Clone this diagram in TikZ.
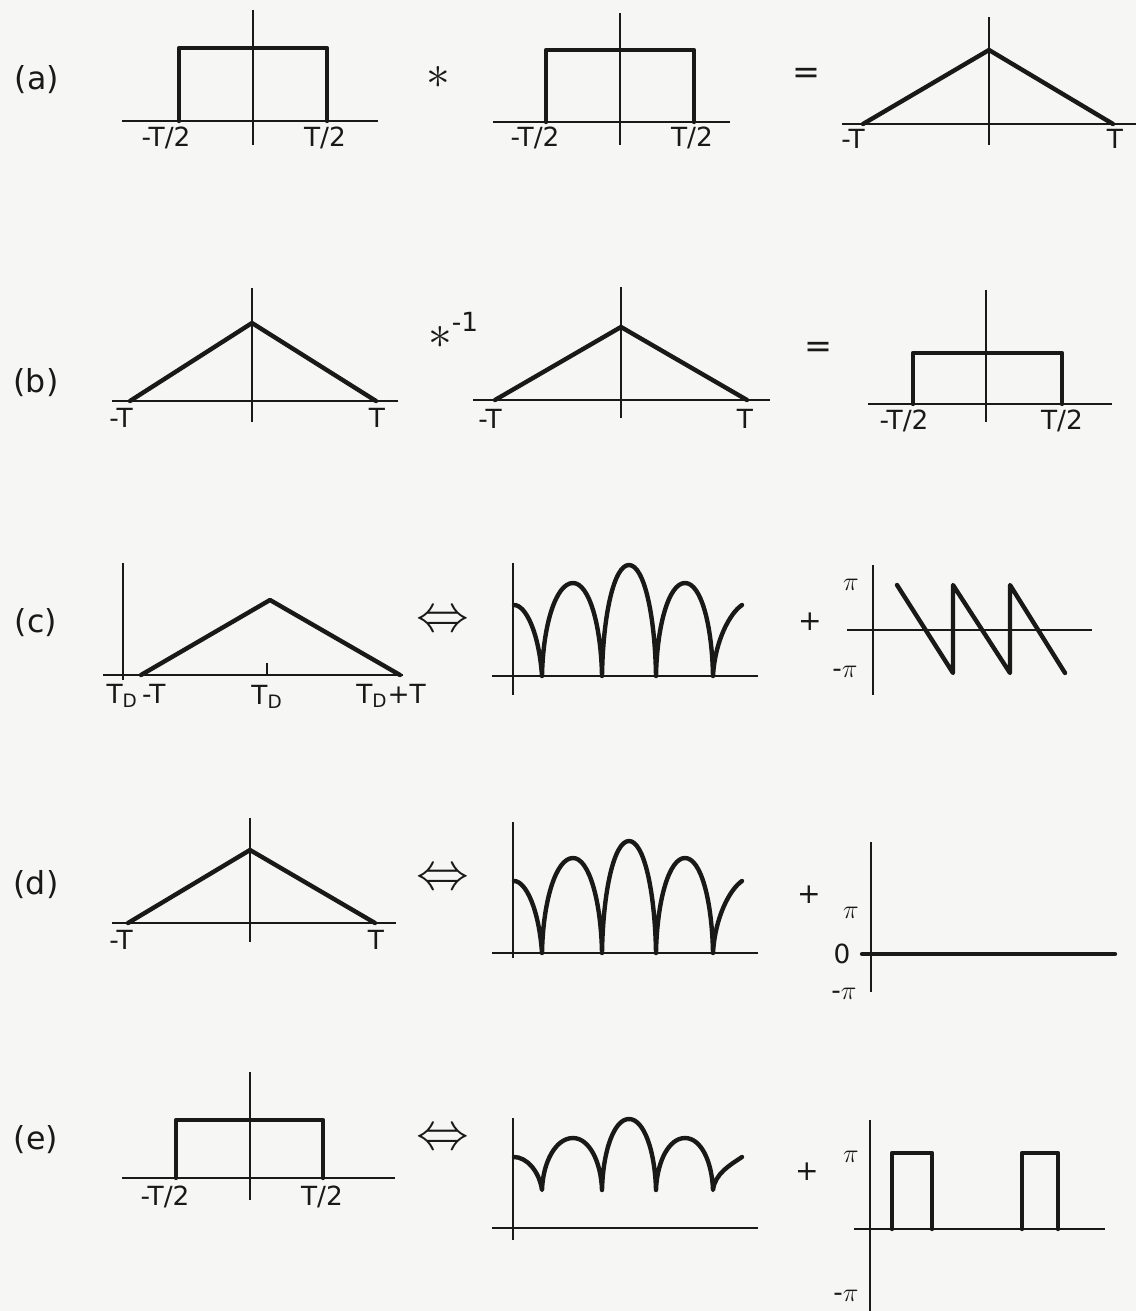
\documentclass[tikz,border=0pt]{standalone}
\usepackage{fix-cm}
\usepackage{fontspec}
\usepackage{amsmath}
\usepackage{tikz}
\setsansfont{DejaVu Sans}

\definecolor{paper}{RGB}{246,246,244}
\definecolor{ink}{RGB}{25,25,25}

% magnitude response: #1 dip y, #2 end y, #3 side peak y, #4 centre peak y
\newcommand{\magresp}[4]{%
  \draw[sig] (514,#2) .. controls +(12,0) and +(-3,{0.6*(#2-#1)}) .. (542,#1)
    .. controls +(1,{0.55*(#3-#1)}) and +(-17,0) .. (573,#3)
    .. controls +(16,0) and +(-1,{0.55*(#3-#1)}) .. (602,#1)
    .. controls +(1,{0.55*(#4-#1)}) and +(-15,0) .. (629,#4)
    .. controls +(15,0) and +(-1,{0.55*(#4-#1)}) .. (656,#1)
    .. controls +(1,{0.55*(#3-#1)}) and +(-16,0) .. (685,#3)
    .. controls +(16,0) and +(-1,{0.55*(#3-#1)}) .. (713,#1)
    .. controls +(2,{0.5*(#2-#1)}) and +(-12,8) .. (742,#2);}

\begin{document}
\begin{tikzpicture}[x=0.02cm, y=-0.02cm, ink,
    axis/.style={draw=ink, line width=1.2pt},
    sig/.style={draw=ink, line width=2.5pt, line join=round, line cap=round},
    lbl/.style={font=\sffamily\fontsize{15}{18}\selectfont, inner sep=0pt},
    tag/.style={font=\sffamily\fontsize{18}{22}\selectfont, inner sep=0pt},
    op/.style={font=\fontsize{27}{30}\selectfont, inner sep=0pt},
    eq/.style={font=\sffamily\fontsize{19}{22}\selectfont, inner sep=0pt},
    pm/.style={font=\sffamily\fontsize{16}{19}\selectfont, inner sep=0pt},
    arr/.style={font=\fontsize{30}{34}\selectfont, inner sep=0pt}]
    \fill[paper] (0,0) rectangle (1136,1311);
    \useasboundingbox (0,0) rectangle (1136,1311);

    % Row (a): rect * rect = triangle
    \node[tag] (tagA) at (37,80) {(a)};
    \draw[axis] (253,10) -- (253,145);
    \draw[axis] (122,121) -- (378,121);
    \draw[sig] (179,121) -- (179,48) -- (327,48) -- (327,121);
    \node[lbl] (lA1) at (166,138) {-T/2};
    \node[lbl] (lA2) at (325,138) {T/2};
    \node[op] (opA1) at (438,77) {$\ast$};
    \draw[axis] (620,13) -- (620,145);
    \draw[axis] (493,122) -- (730,122);
    \draw[sig] (546,122) -- (546,50) -- (694,50) -- (694,122);
    \node[lbl] (lA3) at (535,138) {-T/2};
    \node[lbl] (lA4) at (692,138) {T/2};
    \node[eq] (opA2) at (806,76) {=};
    \draw[axis] (989,17) -- (989,145);
    \draw[axis] (842,124) -- (1136,124);
    \draw[sig] (863,124) -- (989,50) -- (1113,124);
    \node[lbl] (lA5) at (853,139) {-T};
    \node[lbl] (lA6) at (1115,139) {T};

    % Row (b): triangle deconvolved by triangle
    \node[tag] (tagB) at (36,383) {(b)};
    \draw[axis] (252,288) -- (252,422);
    \draw[axis] (112,401) -- (398,401);
    \draw[sig] (130,401) -- (252,323) -- (376,401);
    \node[lbl] (lB1) at (121,418) {-T};
    \node[lbl] (lB2) at (377,418) {T};
    \node[op] (opB1) at (440,337) {$\ast$};
    \node[lbl] (expB) at (465,322) {-1};
    \draw[axis] (621,287) -- (621,418);
    \draw[axis] (473,400) -- (770,400);
    \draw[sig] (495,400) -- (621,327) -- (747,400);
    \node[lbl] (lB3) at (490,419) {-T};
    \node[lbl] (lB4) at (745,419) {T};
    \node[eq] (opB2) at (818,350) {=};
    \draw[axis] (986,290) -- (986,422);
    \draw[axis] (868,404) -- (1112,404);
    \draw[sig] (913,404) -- (913,353) -- (1062,353) -- (1062,404);
    \node[lbl] (lB5) at (904,421) {-T/2};
    \node[lbl] (lB6) at (1062,421) {T/2};

    % Row (c): delayed triangle, magnitude + linear phase
    \node[tag] (tagC) at (36,623) {(c)};
    \draw[axis] (123,563) -- (123,680);
    \draw[axis] (103,675) -- (403,675);
    \draw[axis] (267,663) -- (267,675);
    \draw[sig] (141,675) -- (270,600) -- (400,675);
    \node[lbl] (lC1) at (136,696) {T$_{\mathsf{D}}$\,-T};
    \node[lbl] (lC2) at (267,697) {T$_{\mathsf{D}}$};
    \node[lbl] (lC3) at (391,696) {T$_{\mathsf{D}}$+T};
    \node[arr] (opC1) at (443,622) {$\Leftrightarrow$};
    \draw[axis] (513,563) -- (513,695);
    \draw[axis] (492,676) -- (758,676);
    \magresp{676}{605}{583}{565}
    \node[pm] (opC2) at (810,622) {+};
    \draw[axis] (873,565) -- (873,695);
    \draw[axis] (847,630) -- (1092,630);
    \node[lbl] (lC4) at (851,585) {$\pi$};
    \node[lbl] (lC5) at (845,672) {-$\pi$};
    \draw[sig] (897,585) -- (953,673) -- (953,585) -- (1010,673)
        -- (1010,585) -- (1065,673);

    % Row (d): centred triangle, zero phase
    \node[tag] (tagD) at (36,885) {(d)};
    \draw[axis] (250,818) -- (250,942);
    \draw[axis] (112,923) -- (396,923);
    \draw[sig] (128,923) -- (250,850) -- (375,923);
    \node[lbl] (lD1) at (121,940) {-T};
    \node[lbl] (lD2) at (376,940) {T};
    \node[arr] (opD1) at (443,880) {$\Leftrightarrow$};
    \draw[axis] (513,822) -- (513,958);
    \draw[axis] (492,953) -- (758,953);
    \magresp{953}{881}{858}{841}
    \node[pm] (opD2) at (809,895) {+};
    \draw[axis] (871,842) -- (871,992);
    \draw[sig] (862,954) -- (1115,954);
    \node[lbl] (lD3) at (851,913) {$\pi$};
    \node[lbl] (lD4) at (842,954) {0};
    \node[lbl] (lD5) at (844,994) {-$\pi$};

    % Row (e): centred rect, phase jumps of pi
    \node[tag] (tagE) at (36,1140) {(e)};
    \draw[axis] (250,1072) -- (250,1200);
    \draw[axis] (122,1178) -- (395,1178);
    \draw[sig] (176,1178) -- (176,1120) -- (323,1120) -- (323,1178);
    \node[lbl] (lE1) at (165,1197) {-T/2};
    \node[lbl] (lE2) at (322,1197) {T/2};
    \node[arr] (opE1) at (443,1140) {$\Leftrightarrow$};
    \draw[axis] (513,1118) -- (513,1240);
    \draw[axis] (492,1228) -- (758,1228);
    \magresp{1190}{1157}{1138}{1119}
    \node[pm] (opE2) at (807,1172) {+};
    \draw[axis] (870,1120) -- (870,1311);
    \draw[axis] (854,1229) -- (1105,1229);
    \draw[sig] (892,1229) -- (892,1153) -- (932,1153) -- (932,1229);
    \draw[sig] (1022,1229) -- (1022,1153) -- (1058,1153) -- (1058,1229);
    \node[lbl] (lE3) at (851,1157) {$\pi$};
    \node[lbl] (lE4) at (846,1296) {-$\pi$};
\end{tikzpicture}
\end{document}
